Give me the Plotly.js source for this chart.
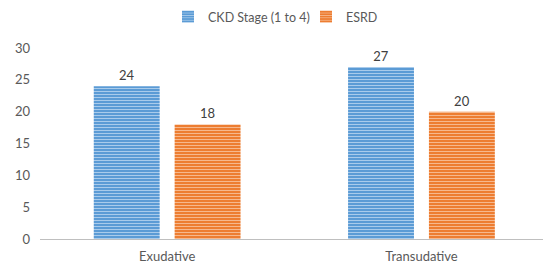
<!DOCTYPE html>
<html><head><meta charset="utf-8">
<script src="https://cdn.plot.ly/plotly-3.0.1.min.js"></script>
<style>html,body{margin:0;padding:0;background:#fff}#c{width:543px;height:263px}</style>
</head><body><div id="c"></div>
<script>
const categories = ["Exudative", "Transudative"];
const ckdValues = [24, 27];
const esrdValues = [18, 20];
const seriesNames = ["CKD Stage (1 to 4)", "ESRD"];
const yTicks = [0, 5, 10, 15, 20, 25, 30];

const font = {family: "Lato, 'Open Sans', sans-serif", size: 13, color: "#595959"};
function bar(name, vals, bg, fg) {
  return {
    type: "bar", name: name, x: categories, y: vals,
    text: vals.map(String), textposition: "outside", cliponaxis: false,
    textfont: {family: font.family, size: 13, color: "#404040"},
    marker: {color: bg, line: {width: 0},
      pattern: {shape: "-", bgcolor: bg, fgcolor: fg, size: 3, solidity: 0.35}},
    hoverinfo: "none"
  };
}
const data = [
  bar(seriesNames[0], ckdValues, "#5B9BD5", "#A9CBEB"),
  bar(seriesNames[1], esrdValues, "#ED7D31", "#F6B88D")
];
const layout = {
  width: 543, height: 263,
  margin: {l: 39.5, r: 0, t: 48, b: 24},
  paper_bgcolor: "#fff", plot_bgcolor: "#fff",
  font: font,
  barmode: "group", bargap: 0.364, bargroupgap: 0.185,
  showlegend: true,
  legend: {orientation: "h", xref: "container", yref: "container", x: 168/543, xanchor: "left",
    y: 1 - 17/263, yanchor: "middle", font: {family: font.family, size: 12.5, color: "#595959"},
    itemwidth: 30, entrywidth: 93, entrywidthmode: "pixels", traceorder: "normal"},
  xaxis: {range: [-0.5, 1.478], showline: true, linecolor: "#BFBFBF", linewidth: 1,
    showgrid: false, zeroline: false, ticks: "", ticklabelstandoff: 5,
    tickfont: {family: font.family, size: 13, color: "#595959"}},
  yaxis: {range: [0, 30], tickvals: yTicks, showgrid: false, zeroline: false, showline: false,
    ticks: "", ticklabelstandoff: 9, tickfont: {family: font.family, size: 13, color: "#595959"}}
};
Plotly.newPlot("c", data, layout, {displayModeBar: false, staticPlot: true});
</script></body></html>
